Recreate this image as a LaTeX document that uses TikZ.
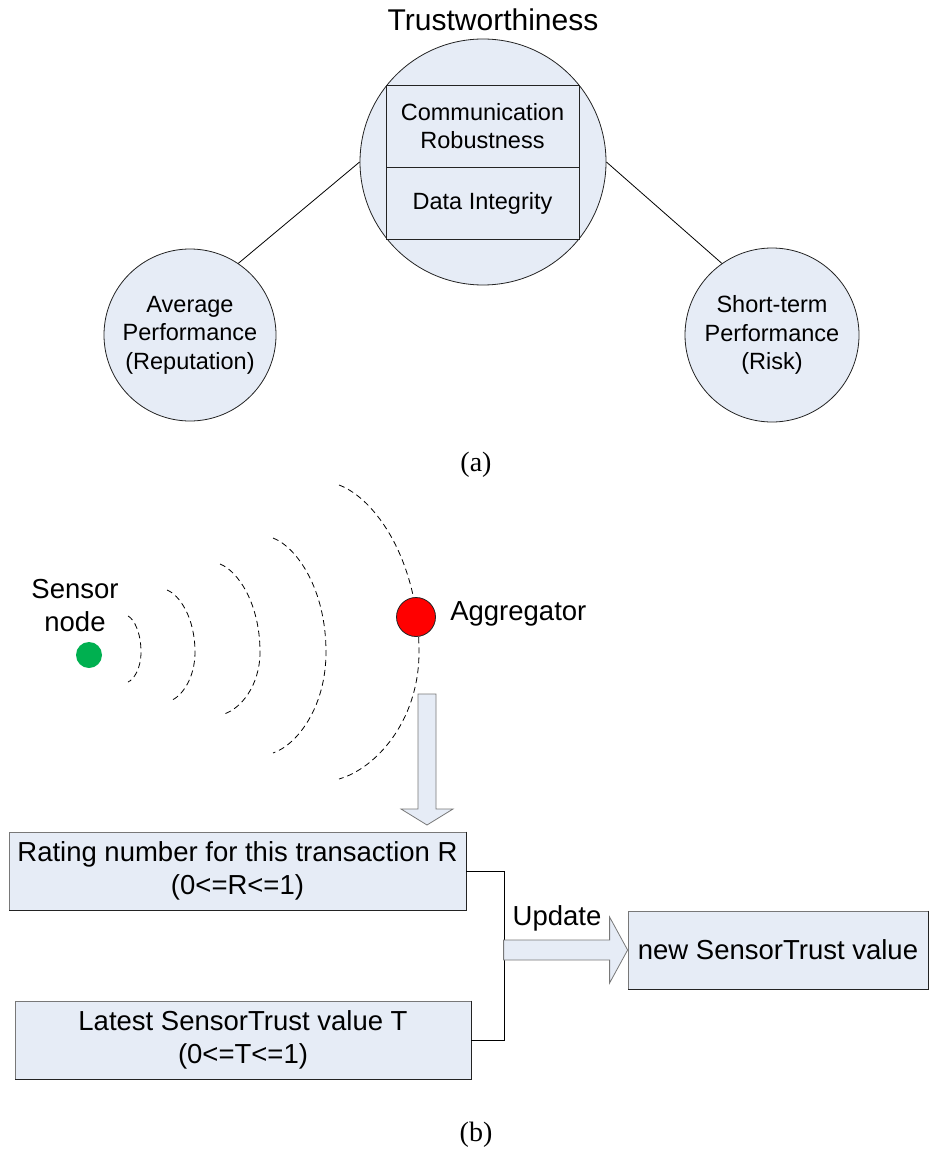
\documentclass[tikz,border=0pt]{standalone}
\usepackage{fontspec}
\setmainfont{Liberation Sans}
\newfontfamily\capfont{Liberation Serif}
\usepackage{xcolor}
\usetikzlibrary{positioning}
\definecolor{pale}{RGB}{230,236,246}
\definecolor{edge}{RGB}{35,35,35}
\definecolor{rim}{RGB}{120,120,120}
\definecolor{leaf}{RGB}{0,176,80}

\begin{document}
\begin{tikzpicture}[x=1pt, y=-1pt, line width=0.8pt, node distance=0pt]
  \tikzstyle{disc}=[circle,draw=edge,fill=pale,align=center,inner sep=0pt,
                    font=\fontsize{23.5}{28.5}\selectfont]
  \tikzstyle{cell}=[rectangle,draw=edge,fill=pale,align=center,inner sep=0pt,
                    minimum width=193pt,font=\fontsize{23.5}{28.5}\selectfont]
  \tikzstyle{box}=[rectangle,draw=rim,fill=pale,align=center,inner sep=0pt,
                   minimum height=78pt,font=\fontsize{27.5}{33}\selectfont]
  \tikzstyle{lbl}=[align=center,inner sep=0pt,font=\fontsize{27.5}{33}\selectfont]
  \tikzstyle{sublabel}=[inner sep=0pt,font=\capfont\fontsize{28}{32}\selectfont]
  \tikzstyle{shade}=[draw=edge]
  \tikzstyle{wave}=[dash pattern=on 6pt off 4pt]
  \tikzstyle{blockarr}=[draw=rim,fill=pale,line join=miter]
  \useasboundingbox (0,0) rectangle (929,1155);

  \node[disc,minimum size=246pt](trust) at (483,162){};
  \node[cell,minimum height=82pt](comm) at (482.5,126){Communication\\Robustness};
  \node[cell,minimum height=72pt,below=of comm](integ){Data Integrity};
  \node[font=\fontsize{30}{36}\selectfont](title) at (493,20){Trustworthiness};
  \node[disc,minimum size=172pt](avg) at (190,335){Average\\Performance\\(Reputation)};
  \node[disc,minimum size=174pt](risk) at (772,335){Short-term\\Performance\\(Risk)};
  \draw (trust.west) -- (avg.56);
  \draw (trust.east) -- (risk.125);
  \node[sublabel](capa) at (476,465){(a)};

  \foreach \xt/\yt/\xr/\xb/\yb in {128/616/141/128/682, 167/590/195/170/701,
      220/564/260/224/714, 273/538/326/273/753, 339/485/419/339/779}
    \draw[wave] (\xt,\yt) .. controls ({\xt+0.45*(\xr-\xt)},{\yt+0.08*(652-\yt)})
      and (\xr,{652-0.55*(652-\yt)}) .. (\xr,652)
      .. controls (\xr,{652+0.55*(\yb-652)}) and ({\xb+0.45*(\xr-\xb)},{\yb-0.08*(\yb-652)}) .. (\xb,\yb);

  \node[circle,fill=leaf,minimum size=26pt,inner sep=0pt](sensor) at (89,655){};
  \node[lbl](sensorlbl) at (75,606){Sensor\\node};
  \node[circle,draw=edge,fill=red,minimum size=39pt,inner sep=0pt](agg) at (416,617){};
  \node[lbl,right=14pt of agg,yshift=3pt](agglbl){Aggregator};

  \coordinate (downtip) at (427,825);
  \draw[blockarr] (downtip) -- ++(-26,-16) -- ++(17,0) -- ++(0,-115) -- ++(18,0)
    -- ++(0,115) -- ++(17,0) -- cycle;

  \node[box,minimum width=457pt](rating) at (237.5,871){Rating number for this transaction R\\(0<=R<=1)};
  \node[box,minimum width=456pt](latest) at (243,1040){Latest SensorTrust value T\\(0<=T<=1)};
  \node[box,minimum width=300pt](newval) at (778,950){new SensorTrust value};
  \foreach \b in {rating,latest,newval}
    \draw[shade] (\b.north east) -- (\b.south east) -- (\b.south west);

  \draw (rating.east) -- ++(38,0) coordinate(join) |- (latest.east);
  \draw[blockarr] (newval.west) -- ++(-18,-33) -- ++(0,23) -- ++(-106,0)
    -- ++(0,20) -- ++(106,0) -- ++(0,23) -- cycle;
  \node[lbl](update) at (557,918){Update};
  \node[sublabel](capb) at (476,1135){(b)};
\end{tikzpicture}
\end{document}
